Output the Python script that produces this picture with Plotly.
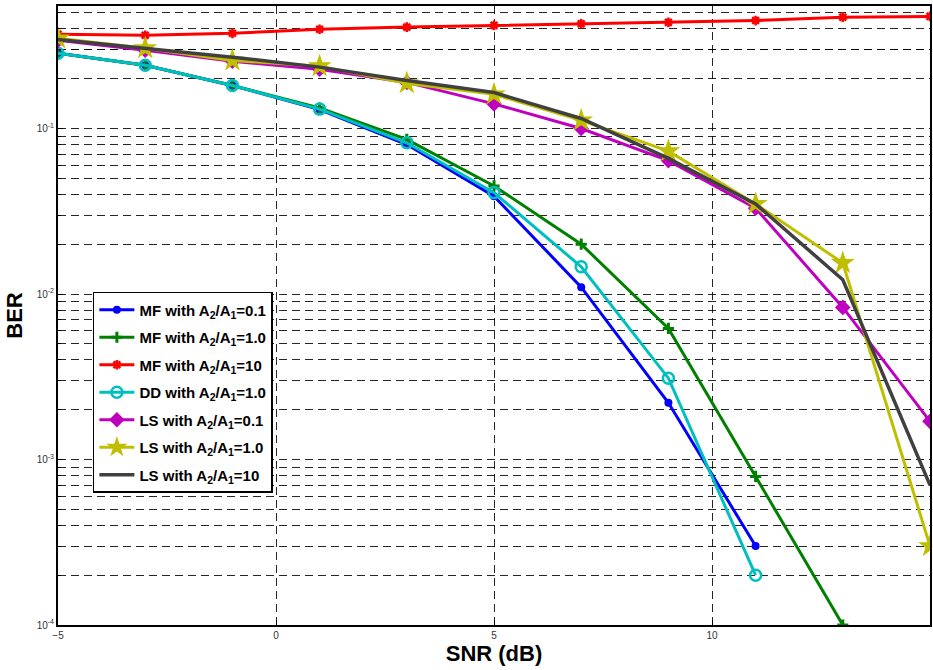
import plotly.graph_objects as go

snr = [-5, -3, -1, 1, 3, 5, 7, 9, 11, 13, 15]

mf_01 = [0.285, 0.241, 0.182, 0.130, 0.080, 0.039, 0.011, 0.0022, 0.0003]
mf_10 = [0.285, 0.241, 0.182, 0.133, 0.086, 0.045, 0.020, 0.0062, 0.00079, 0.0001]
mf_100 = [0.371, 0.366, 0.376, 0.398, 0.410, 0.420, 0.430, 0.438, 0.449, 0.471, 0.476]
dd_10 = [0.285, 0.241, 0.182, 0.131, 0.082, 0.041, 0.0146, 0.0031, 0.0002]
ls_01 = [0.341, 0.297, 0.255, 0.228, 0.190, 0.141, 0.100, 0.064, 0.033, 0.0083, 0.0017]
ls_10 = [0.351, 0.306, 0.258, 0.238, 0.188, 0.161, 0.112, 0.073, 0.035, 0.0154, 0.0003]
ls_100 = [0.345, 0.305, 0.270, 0.235, 0.195, 0.165, 0.115, 0.066, 0.035, 0.0122, 0.0007]

names = ["MF with A<sub>2</sub>/A<sub>1</sub>=0.1",
         "MF with A<sub>2</sub>/A<sub>1</sub>=1.0",
         "MF with A<sub>2</sub>/A<sub>1</sub>=10",
         "DD with A<sub>2</sub>/A<sub>1</sub>=1.0",
         "LS with A<sub>2</sub>/A<sub>1</sub>=0.1",
         "LS with A<sub>2</sub>/A<sub>1</sub>=1.0",
         "LS with A<sub>2</sub>/A<sub>1</sub>=10"]

series = [mf_01, mf_10, mf_100, dd_10, ls_01, ls_10, ls_100]
colors = ["rgb(0,0,255)", "rgb(0,128,0)", "rgb(255,0,0)", "rgb(0,191,191)",
          "rgb(191,0,191)", "rgb(191,191,0)", "rgb(64,64,64)"]
markers = [dict(symbol="circle", size=8),
           dict(symbol="cross-thin", size=8, line=dict(width=3)),
           dict(symbol="asterisk", size=8, line=dict(width=2.5)),
           dict(symbol="circle-open", size=11, line=dict(width=2.5)),
           dict(symbol="diamond", size=12),
           dict(symbol="star", size=18),
           None]

fig = go.Figure()
for i, (nm, ys, c, mk) in enumerate(zip(names, series, colors, markers)):
    xs = snr[:len(ys)]
    if mk is None:
        fig.add_trace(go.Scatter(x=xs, y=ys, mode="lines", name=nm, legendgroup=f"g{i}",
                                 line=dict(color=c, width=3.5)))
    else:
        m = dict(mk)
        m["color"] = c
        if "line" in m:
            m["line"] = dict(m["line"], color=c)
        fig.add_trace(go.Scatter(x=xs, y=ys, mode="lines+markers", name=nm, legendgroup=f"g{i}",
                                 line=dict(color=c, width=3), marker=m))

x_ticks = [-5, 0, 5, 10, 15]
y_ticks = [1e-4, 1e-3, 1e-2, 1e-1]
y_ticktext = ["10<sup>-4</sup>", "10<sup>-3</sup>", "10<sup>-2</sup>", "10<sup>-1</sup>"]
y_minor = [m * 10 ** e for e in range(-4, 0) for m in range(2, 10)] + [0.2, 0.3, 0.4, 0.5]

grid = dict(gridcolor="rgba(0,0,0,0.85)", gridwidth=1, griddash="8px,5px")

fig.update_layout(
    width=933, height=670,
    margin=dict(l=58, r=1, t=6, b=45),
    paper_bgcolor="white", plot_bgcolor="white",
    font=dict(family="Liberation Sans, Arial, sans-serif", color="black"),
    showlegend=True,
    legend=dict(x=0.04, y=0.538, xanchor="left", yanchor="top",
                bgcolor="white", bordercolor="black", borderwidth=1.5,
                font=dict(size=15, family="Liberation Sans, Arial, sans-serif", weight="bold"),
                itemwidth=35, tracegroupgap=5, traceorder="grouped"),
    xaxis=dict(range=[-5, 15], tickvals=x_ticks, showgrid=True, **grid,
               showline=True, linecolor="black", linewidth=2, mirror=True,
               ticks="inside", ticklen=5, tickcolor="black",
               tickfont=dict(size=10, color="#333"), zeroline=False,
               title=dict(text="<b>SNR (dB)</b>", font=dict(size=22), standoff=3)),
    yaxis=dict(type="log", range=[-4, -0.2596], tickvals=y_ticks, ticktext=y_ticktext,
               showgrid=True, **grid,
               minor=dict(tickvals=y_minor, showgrid=True, ticks="inside", ticklen=3,
                          tickcolor="black", **grid),
               showline=True, linecolor="black", linewidth=2, mirror=True,
               ticks="inside", ticklen=5, tickcolor="black",
               tickfont=dict(size=10, color="#333"), zeroline=False,
               title=dict(text="<b>BER</b>", font=dict(size=22), standoff=8)),
)

fig.write_html("out.html", config={"displayModeBar": False},
               post_script="document.body.style.margin='0px';")
